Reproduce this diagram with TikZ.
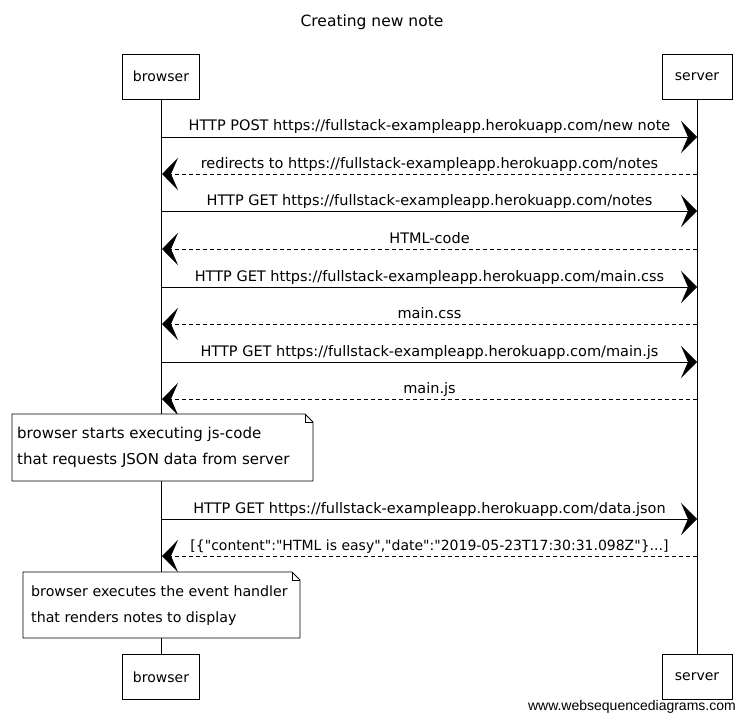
\documentclass[tikz,border=0pt]{standalone}
\usepackage{fontspec}
% straight quotes stay straight: no TeX ligature mapping
\setmainfont{DejaVu Sans}[Ligatures=TeXOff]
\newfontfamily\credit{Liberation Sans}
\usetikzlibrary{arrows.meta}

\tikzset{
  actor/.style={draw, line width=0.8pt, fill=white, minimum width=76pt, minimum height=45pt, font=\fontsize{14}{16}\selectfont},
  life/.style={line width=0.7pt},
  req/.style={line width=0.9pt, -{Stealth[length=16pt, width=32pt, inset=7pt]}},
  resp/.style={line width=0.9pt, dash pattern=on 4pt off 3pt, -{Stealth[length=16pt, width=32pt, inset=7pt]}},
  lbl/.style={font=\fontsize{14.5}{16}\selectfont, inner sep=0pt, anchor=base, yshift=6pt},
  notetext/.style={font=\fontsize{#1}{26}\selectfont, align=left, inner sep=0pt, anchor=north west},
  notetext/.default=15,
  notebox/.style={draw, line width=0.8pt, fill=white, line join=round},
}

\begin{document}
\begin{tikzpicture}[x=1pt, y=-1pt]
  \useasboundingbox (0,0) rectangle (746,722);

  % title
  \node[font=\fontsize{15.5}{18}\selectfont] (title) at (372,22) {Creating new note};

  % participants, top and bottom
  \node[actor, minimum width=77pt] (bt) at (161,76.5) {browser};
  \node[actor, minimum width=70pt] (st) at (697,76.5) {server};
  \node[actor, minimum width=77pt] (bb) at (161,677) {browser};
  \node[actor, minimum width=70pt] (sb) at (697,677) {server};

  % lifelines
  \draw[life] (bt.south) -- (bb.north);
  \draw[life] (st.south) -- (sb.north);

  % end points of the messages on the lifelines
  \foreach \i/\y in {1/137, 2/174, 3/211, 4/249, 5/287, 6/324, 7/362, 8/399, 9/519, 10/556} {
    \coordinate (b\i) at (162,\y);
    \coordinate (s\i) at (697,\y);
  }

  % messages
  \draw[req]  (b1) -- (s1)  node[lbl, midway] (m1) {HTTP POST https://fullstack-exampleapp.herokuapp.com/new note};
  \draw[resp] (s2) -- (b2)  node[lbl, midway] (m2) {redirects to https://fullstack-exampleapp.herokuapp.com/notes};
  \draw[req]  (b3) -- (s3)  node[lbl, midway] (m3) {HTTP GET https://fullstack-exampleapp.herokuapp.com/notes};
  \draw[resp] (s4) -- (b4)  node[lbl, midway] (m4) {HTML-code};
  \draw[req]  (b5) -- (s5)  node[lbl, midway] (m5) {HTTP GET https://fullstack-exampleapp.herokuapp.com/main.css};
  \draw[resp] (s6) -- (b6)  node[lbl, midway] (m6) {main.css};
  \draw[req]  (b7) -- (s7)  node[lbl, midway] (m7) {HTTP GET https://fullstack-exampleapp.herokuapp.com/main.js};
  \draw[resp] (s8) -- (b8)  node[lbl, midway] (m8) {main.js};
  \draw[req]  (b9) -- (s9)  node[lbl, midway] (m9) {HTTP GET https://fullstack-exampleapp.herokuapp.com/data.json};
  \draw[resp] (s10) -- (b10) node[lbl, midway, font=\fontsize{14}{16}\selectfont] (m10)
    {[\{"content":"HTML is easy","date":"2019-05-23T17:30:31.098Z"\}...]};

  % first note, with a folded corner
  \draw[notebox] (12,414) -- (305,414) -- (313,422) -- (313,481) -- (12,481) -- cycle;
  \draw[line width=0.6pt] (305,414) -- (305,422) -- (313,422);
  \node[notetext] (n1) at (17,427) {browser starts executing js-code\\that requests JSON data from server};

  % second note
  \draw[notebox] (23,572) -- (292,572) -- (300,580) -- (300,638) -- (23,638) -- cycle;
  \draw[line width=0.6pt] (292,572) -- (292,580) -- (300,580);
  \node[notetext=14.2] (n2) at (31,586) {browser executes the event handler\\that renders notes to display};

  % credit line
  \node[font=\credit\fontsize{14}{16}\selectfont, anchor=east, inner sep=0pt] (credit) at (736,707) {www.websequencediagrams.com};
\end{tikzpicture}
\end{document}
